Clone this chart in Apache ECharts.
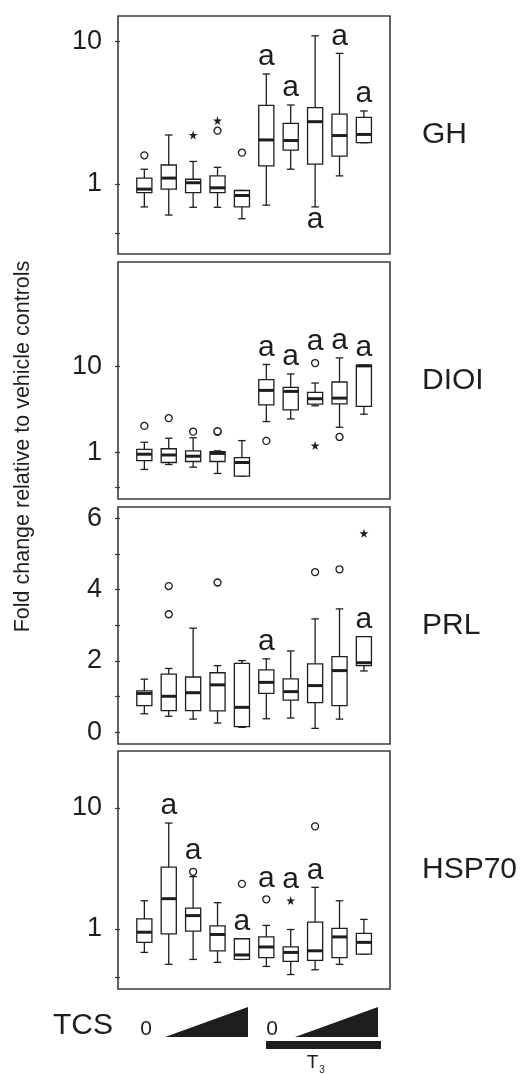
<!DOCTYPE html>
<html>
<head>
<meta charset="utf-8">
<script src="https://cdn.jsdelivr.net/npm/echarts@6/dist/echarts.min.js"></script>
<style>
  html, body { margin: 0; padding: 0; background: #fff; }
  #chart { width: 523px; height: 1074px; }
</style>
</head>
<body>
<div id="chart"></div>
<script>
// Treatment groups along each panel: vehicle + TCS doses, then T3 with vehicle + TCS doses
const groups = [1, 2, 3, 4, 5, 6, 7, 8, 9, 10];
const panelNames = ['GH', 'DIOI', 'PRL', 'HSP70'];

// Box summaries per group: [lower whisker, Q1, median, Q3, upper whisker]
const ghBoxes = [
  [0.69, 0.87, 0.92, 1.10, 1.27],
  [0.605, 0.92, 1.10, 1.36, 2.21],
  [0.686, 0.87, 1.02, 1.08, 1.44],
  [0.686, 0.87, 0.94, 1.14, 1.31],
  [0.57, 0.69, 0.83, 0.90, 0.90],
  [0.71, 1.34, 2.04, 3.57, 5.93],
  [1.27, 1.73, 2.02, 2.67, 3.59],
  [0.69, 1.38, 2.74, 3.44, 11.0],
  [1.14, 1.57, 2.19, 3.10, 8.28],
  [1.95, 1.95, 2.23, 2.94, 3.26]
];
const ghOutliers = [[1, 1.59], [4, 2.37], [5, 1.66]];
const ghExtremes = [[3, 2.21], [4, 2.79]];
const ghSig = ['', '', '', '', '', 'up', 'up', 'down', 'up', 'up'];

const dioBoxes = [
  [0.64, 0.81, 0.96, 1.09, 1.32],
  [0.73, 0.77, 0.94, 1.11, 1.47],
  [0.68, 0.79, 0.91, 1.05, 1.49],
  [0.575, 0.79, 0.98, 1.03, 1.05],
  [0.535, 0.535, 0.77, 0.875, 1.38],
  [2.29, 3.58, 5.26, 7.0, 10.5],
  [2.46, 3.13, 5.12, 5.70, 8.15],
  [3.49, 3.65, 4.21, 4.99, 6.40],
  [1.97, 3.68, 4.28, 6.58, 12.5],
  [2.79, 3.43, 10.1, 10.3, 10.3]
];
const dioOutliers = [[1, 2.04], [2, 2.51], [3, 1.75], [4, 1.74], [4, 1.77], [6, 1.37], [8, 10.9], [9, 1.52]];
const dioExtremes = [[8, 1.21]];
const dioSig = ['', '', '', '', '', 'up', 'up', 'up', 'up', 'up'];

const prlBoxes = [
  [0.52, 0.75, 1.09, 1.16, 1.49],
  [0.45, 0.61, 1.01, 1.63, 1.79],
  [0.37, 0.61, 1.11, 1.55, 2.92],
  [0.26, 0.60, 1.33, 1.67, 1.87],
  [0.14, 0.16, 0.70, 1.93, 2.01],
  [0.38, 1.09, 1.40, 1.75, 2.06],
  [0.40, 0.90, 1.14, 1.50, 2.28],
  [0.11, 0.83, 1.31, 1.92, 3.18],
  [0.37, 0.75, 1.73, 2.12, 3.46],
  [1.72, 1.87, 1.95, 2.68, 2.68]
];
const prlOutliers = [[2, 4.10], [2, 3.31], [4, 4.20], [8, 4.49], [9, 4.57]];
const prlExtremes = [[10, 5.58]];
const prlSig = ['', '', '', '', '', 'up', '', '', '', 'up'];

const hspBoxes = [
  [0.64, 0.775, 0.94, 1.21, 1.71],
  [0.51, 0.91, 1.78, 3.24, 7.51],
  [0.56, 0.96, 1.29, 1.49, 2.71],
  [0.53, 0.66, 0.90, 1.06, 1.65],
  [0.56, 0.56, 0.61, 0.83, 0.83],
  [0.49, 0.58, 0.71, 0.86, 1.07],
  [0.42, 0.54, 0.64, 0.71, 0.99],
  [0.46, 0.55, 0.66, 1.14, 2.21],
  [0.51, 0.58, 0.86, 1.01, 1.71],
  [0.62, 0.62, 0.775, 0.92, 1.20]
];
const hspOutliers = [[3, 2.97], [5, 2.36], [6, 1.76], [8, 7.05]];
const hspExtremes = [[7, 1.72]];
const hspSig = ['', 'up', 'up', '', 'up', 'up', 'up', 'up', '', ''];

// Axis tick values
const logLabelTicks = [1, 10];
const ghMinorTicks = [0.45, 1, 10];
const logMinorTicks = [0.4, 1, 10];
const prlLabelTicks = [0, 2, 4, 6];
const prlTicks = [0, 1, 2, 3, 4, 5, 6];

const FONT = '"Liberation Sans", Arial, sans-serif';
const INK = '#1e1e1e';
const FRAME = '#3c3c3c';

const panels = [
  { boxes: ghBoxes, outl: ghOutliers, ext: ghExtremes, sig: ghSig, type: 'log', min: 0.322, max: 15.16, ticks: ghMinorTicks, labels: logLabelTicks, top: 16, height: 238 },
  { boxes: dioBoxes, outl: dioOutliers, ext: dioExtremes, sig: dioSig, type: 'log', min: 0.291, max: 161, ticks: logMinorTicks, labels: logLabelTicks, top: 262, height: 237 },
  { boxes: prlBoxes, outl: prlOutliers, ext: prlExtremes, sig: prlSig, type: 'value', min: -0.328, max: 6.317, ticks: prlTicks, labels: prlLabelTicks, top: 507, height: 237 },
  { boxes: hspBoxes, outl: hspOutliers, ext: hspExtremes, sig: hspSig, type: 'log', min: 0.319, max: 29.6, ticks: logMinorTicks, labels: logLabelTicks, top: 751, height: 238 }
];

const GRID_LEFT = 118, GRID_WIDTH = 272;

const STAR = 'path://M50,0 L61,35 L98,35 L68,57 L79,91 L50,70 L21,91 L32,57 L2,35 L39,35 Z';

function boxRenderer(p) {
  return function (params, api) {
    const x = api.value(0);
    const lo = api.coord([x, api.value(1)]);
    const q1 = api.coord([x, api.value(2)]);
    const md = api.coord([x, api.value(3)]);
    const q3 = api.coord([x, api.value(4)]);
    const hi = api.coord([x, api.value(5)]);
    const band = api.size([1, 0])[0];
    const hw = band * 0.31;
    const cw = hw * 0.5;
    const cx = md[0];
    const thin = { stroke: INK, lineWidth: 1.3, fill: null };
    const children = [
      { type: 'line', shape: { x1: cx, y1: q3[1], x2: cx, y2: hi[1] }, style: thin },
      { type: 'line', shape: { x1: cx - cw, y1: hi[1], x2: cx + cw, y2: hi[1] }, style: thin },
      { type: 'line', shape: { x1: cx, y1: q1[1], x2: cx, y2: lo[1] }, style: thin },
      { type: 'line', shape: { x1: cx - cw, y1: lo[1], x2: cx + cw, y2: lo[1] }, style: thin },
      { type: 'rect', shape: { x: cx - hw, y: q3[1], width: hw * 2, height: q1[1] - q3[1] },
        style: { stroke: INK, lineWidth: 1.3, fill: '#fff' } },
      { type: 'line', shape: { x1: cx - hw, y1: md[1], x2: cx + hw, y2: md[1] },
        style: { stroke: INK, lineWidth: 3 } }
    ];
    const sig = p.sig[params.dataIndex];
    if (sig === 'up') {
      // letter sits above the whisker, or above any nearby outlier stacked on it
      let anchor = hi[1];
      const marks = p.outl.concat(p.ext)
        .filter(o => o[0] === x)
        .map(o => api.coord([x, o[1]])[1])
        .filter(py => py < anchor)
        .sort((a, b) => b - a);
      marks.forEach(py => { if (anchor - py < 36) anchor = py - 4; });
      children.push({ type: 'text', style: { text: 'a', x: cx, y: anchor - 17, align: 'center', verticalAlign: 'middle',
        font: '30px ' + FONT, fill: INK } });
    } else if (sig === 'down') {
      children.push({ type: 'text', style: { text: 'a', x: cx, y: lo[1] + 12.5, align: 'center', verticalAlign: 'middle',
        font: '30px ' + FONT, fill: INK } });
    }
    return { type: 'group', children };
  };
}

const grid = [], xAxis = [], yAxis = [], series = [], graphic = [];

panels.forEach((p, i) => {
  grid.push({ left: GRID_LEFT, width: GRID_WIDTH, top: p.top, height: p.height, show: true,
    borderColor: FRAME, borderWidth: 1.6, backgroundColor: 'transparent' });
  xAxis.push({ type: 'value', gridIndex: i, min: -0.08, max: 11.07, show: false });
  yAxis.push({
    type: p.type, gridIndex: i, min: p.min, max: p.max,
    axisLine: { show: false },
    splitLine: { show: false },
    axisTick: { show: true, inside: false, length: 5, lineStyle: { color: FRAME, width: 1.3 }, customValues: p.ticks },
    axisLabel: { customValues: p.labels, fontSize: 27, color: INK, fontFamily: FONT, margin: 16 }
  });
  series.push({
    type: 'custom', xAxisIndex: i, yAxisIndex: i, clip: false, z: 2,
    data: p.boxes.map((b, k) => [groups[k]].concat(b)),
    encode: { x: 0, y: [1, 2, 3, 4, 5] },
    renderItem: boxRenderer(p)
  });
  series.push({
    type: 'scatter', xAxisIndex: i, yAxisIndex: i, z: 3, symbol: 'circle', symbolSize: 7,
    itemStyle: { color: '#fff', borderColor: INK, borderWidth: 1.3, opacity: 1 },
    data: p.outl
  });
  series.push({
    type: 'scatter', xAxisIndex: i, yAxisIndex: i, z: 3, symbol: STAR, symbolSize: 9,
    itemStyle: { color: INK, opacity: 1 },
    data: p.ext
  });
  graphic.push({ type: 'text', left: 422, top: p.top + p.height / 2 - 15,
    style: { text: panelNames[i], font: '30px ' + FONT, fill: INK } });
});

// shared y-axis title
graphic.push({ type: 'text', x: 23, y: 446.5, rotation: Math.PI / 2,
  style: { text: 'Fold change relative to vehicle controls', font: '21.5px ' + FONT, fill: INK,
    align: 'center', verticalAlign: 'middle' } });

// treatment key under the panels
graphic.push({ type: 'text', x: 53, y: 1026, style: { text: 'TCS', font: '30px ' + FONT, fill: INK, verticalAlign: 'middle' } });
graphic.push({ type: 'text', x: 146, y: 1029, style: { text: '0', font: '21px ' + FONT, fill: INK, align: 'center', verticalAlign: 'middle' } });
graphic.push({ type: 'polygon', shape: { points: [[165, 1037], [248, 1037], [248, 1007]] }, style: { fill: INK } });
graphic.push({ type: 'text', x: 272, y: 1029, style: { text: '0', font: '21px ' + FONT, fill: INK, align: 'center', verticalAlign: 'middle' } });
graphic.push({ type: 'polygon', shape: { points: [[295, 1037], [378, 1037], [378, 1007]] }, style: { fill: INK } });
graphic.push({ type: 'rect', shape: { x: 266, y: 1041, width: 115, height: 8 }, style: { fill: INK } });
graphic.push({ type: 'text', x: 312.5, y: 1063, style: { text: 'T', font: '19px ' + FONT, fill: INK, align: 'center', verticalAlign: 'middle' } });
graphic.push({ type: 'text', x: 322, y: 1070, style: { text: '3', font: '10px ' + FONT, fill: INK, align: 'center', verticalAlign: 'middle' } });

const chart = echarts.init(document.getElementById('chart'), null, { renderer: 'canvas' });
chart.setOption({
  animation: false,
  backgroundColor: '#fff',
  grid, xAxis, yAxis, series, graphic
});
</script>
</body>
</html>
